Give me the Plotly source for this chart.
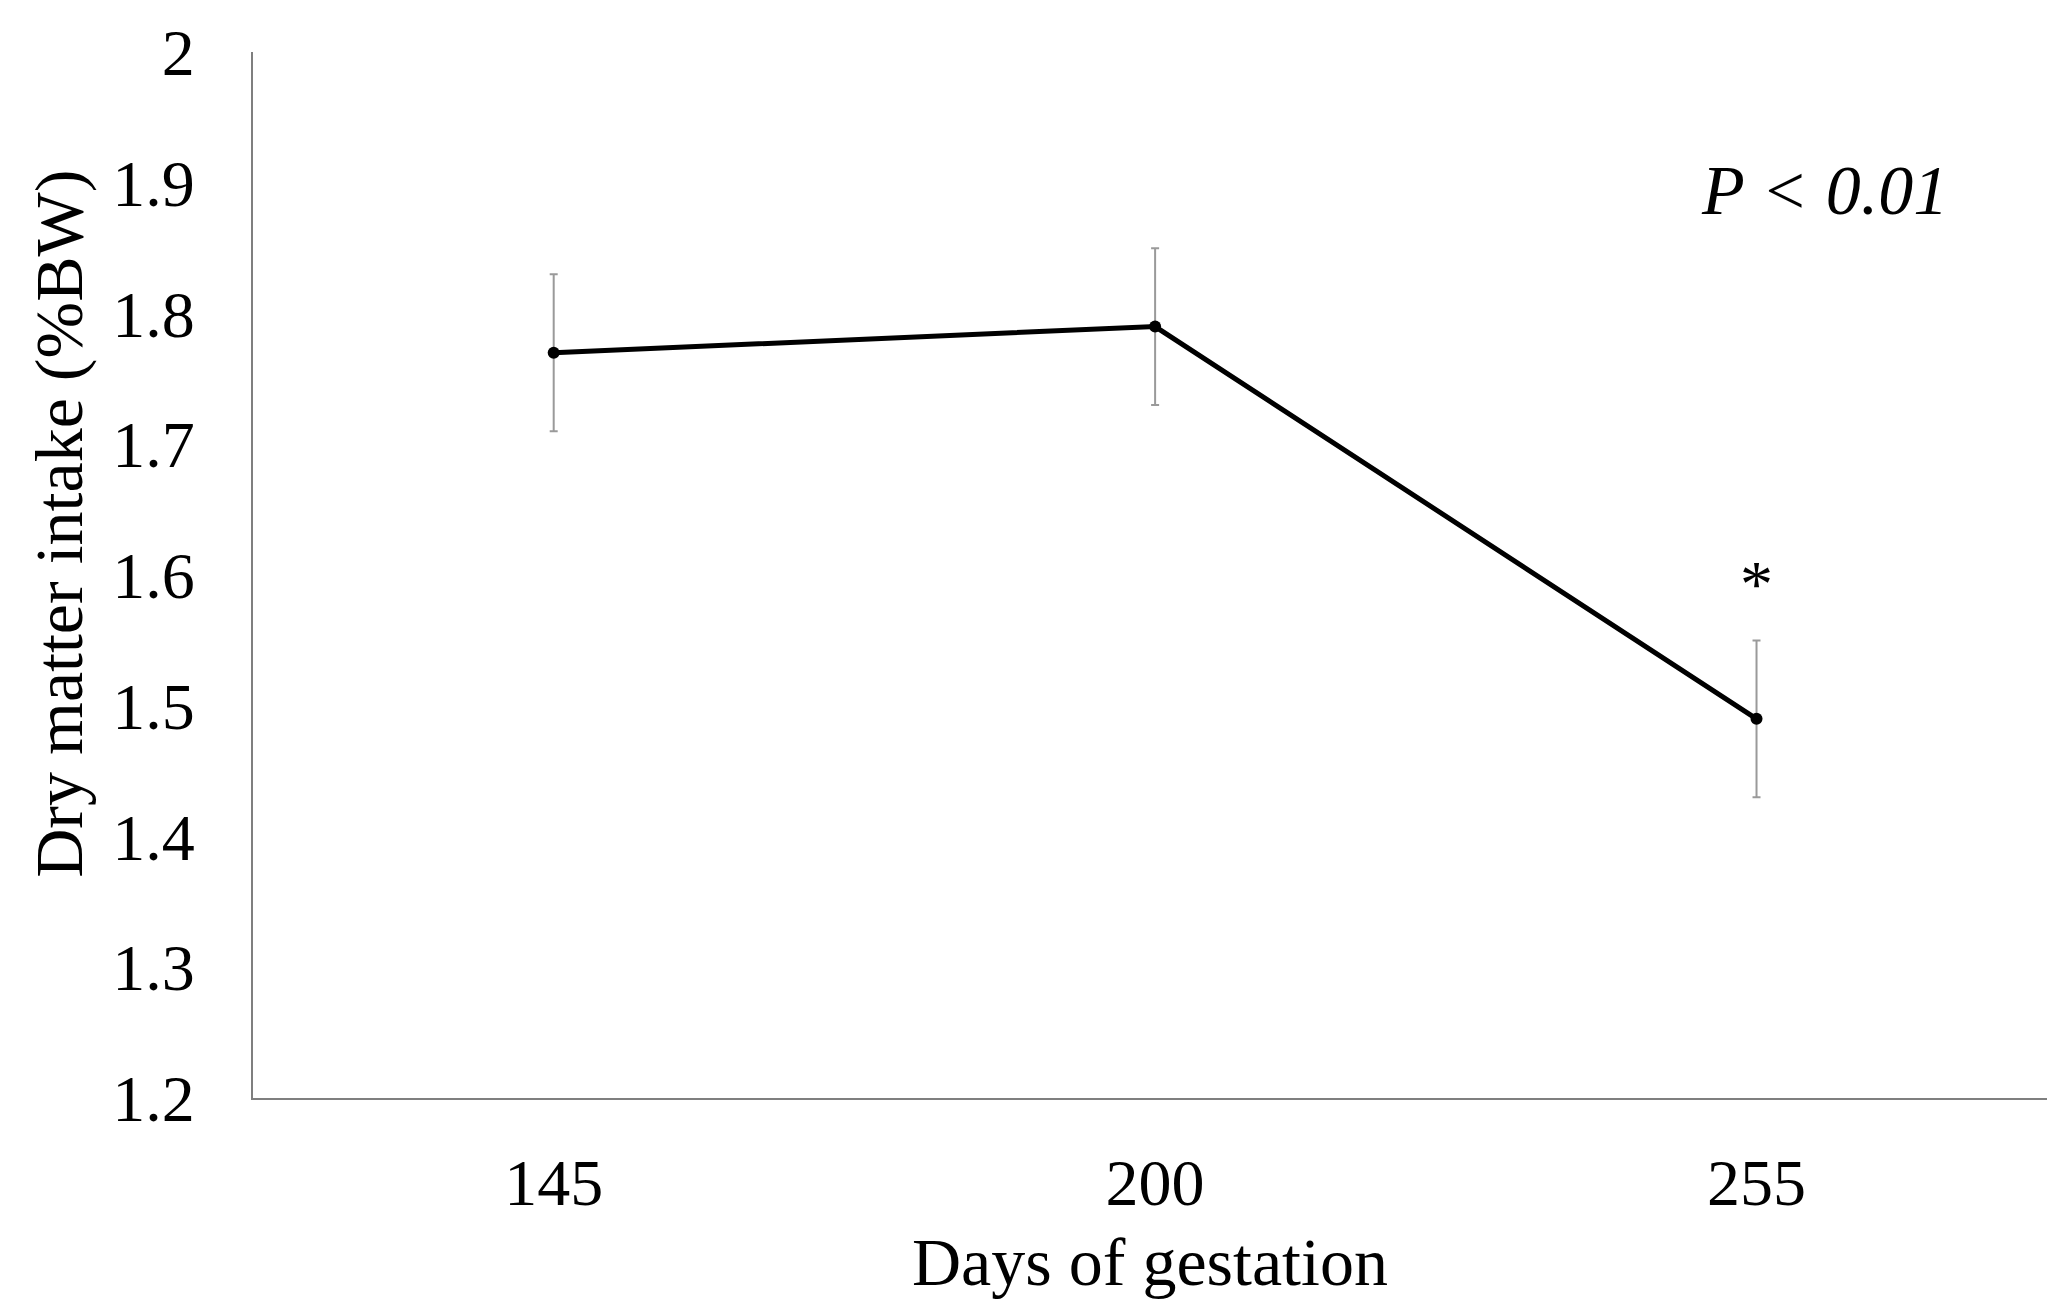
import plotly.graph_objects as go

days = ["145", "200", "255"]
dmi = [1.77, 1.79, 1.49]
se = [0.06, 0.06, 0.06]
y_ticks = [1.2, 1.3, 1.4, 1.5, 1.6, 1.7, 1.8, 1.9, 2.0]
y_ticktext = ["1.2", "1.3", "1.4", "1.5", "1.6", "1.7", "1.8", "1.9", "2"]

FONT = "Liberation Serif"

fig = go.Figure()
fig.add_trace(go.Scatter(
    x=days, y=dmi, mode="lines+markers",
    line=dict(color="black", width=5),
    marker=dict(color="black", size=12),
    error_y=dict(type="data", array=se, visible=True, color="#9a9a9a", thickness=2, width=4),
    showlegend=False,
))

# significance star above the last error bar (category index 2)
fig.add_annotation(x=2, y=dmi[2] + se[2], yshift=57, yanchor="middle", text="*",
                   showarrow=False, font=dict(family=FONT, size=66, color="black"))
fig.add_annotation(xref="paper", yref="paper", x=0.8757, y=0.868, xanchor="center",
                   yanchor="middle", text="<i>P < 0.01</i>",
                   showarrow=False, font=dict(family=FONT, size=70, color="black"))
# axis titles
fig.add_annotation(xref="paper", yref="paper", x=0, y=0.549, xshift=-194,
                   xanchor="center", yanchor="middle", textangle=-90,
                   text="Dry matter intake (%BW)", showarrow=False,
                   font=dict(family=FONT, size=68, color="black"))
fig.add_annotation(xref="paper", yref="paper", x=0.5, y=0, yshift=-164,
                   xanchor="center", yanchor="middle",
                   text="Days of gestation", showarrow=False,
                   font=dict(family=FONT, size=68, color="black"))

fig.update_layout(
    width=2039, height=1292,
    margin=dict(l=245, r=0, t=44, b=202, autoexpand=False),
    paper_bgcolor="white", plot_bgcolor="white",
    font=dict(family=FONT, size=66, color="black"),
    xaxis=dict(
        type="category", range=[-0.5, 2.483], automargin=False,
        showline=True, linecolor="#7f7f7f", linewidth=2,
        showgrid=False, zeroline=False, ticks="",
        ticklabelstandoff=26,
    ),
    yaxis=dict(
        range=[1.2, 2.0], tickvals=y_ticks, ticktext=y_ticktext, automargin=False,
        showline=True, linecolor="#7f7f7f", linewidth=2,
        showgrid=False, zeroline=False, ticks="",
        ticklabelstandoff=43,
    ),
)

fig.write_html("out.html")
